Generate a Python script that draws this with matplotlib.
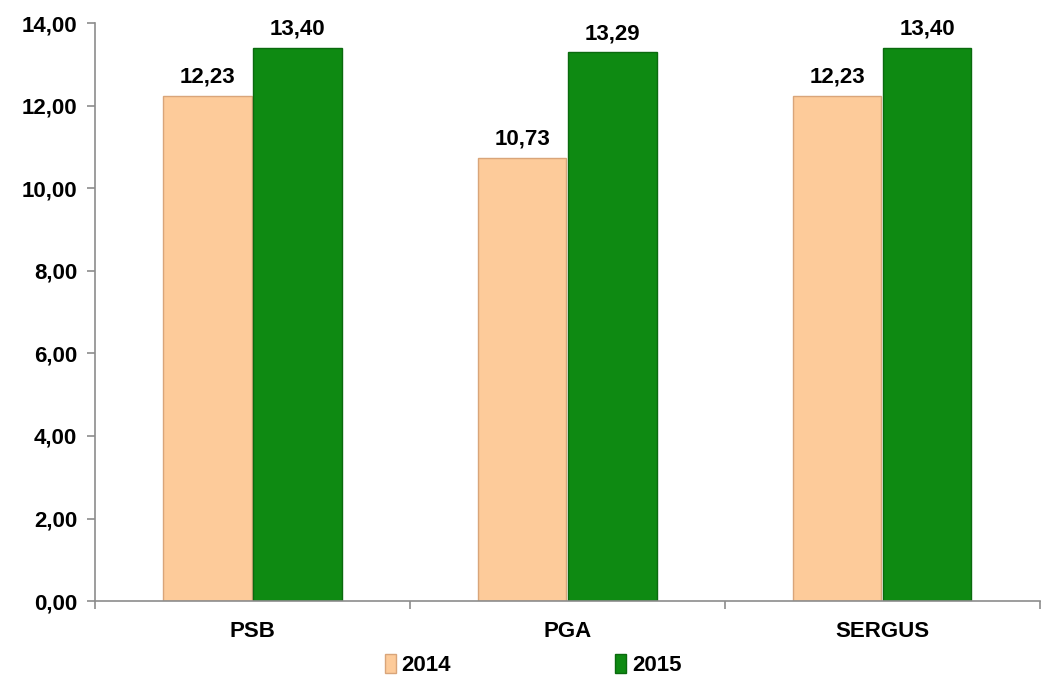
import numpy as np
import matplotlib.pyplot as plt
from matplotlib.ticker import FuncFormatter

categories = ["PSB", "PGA", "SERGUS"]
values_2014 = [12.23, 10.73, 12.23]
values_2015 = [13.40, 13.29, 13.40]
series_names = ["2014", "2015"]


def br(v):
    return f"{v:.2f}".replace(".", ",")


def main():
    plt.rcParams["font.family"] = ["Liberation Sans", "DejaVu Sans"]
    plt.rcParams["font.weight"] = "bold"
    fs = 16

    fig = plt.figure(figsize=(10.45, 6.77), dpi=100)
    ax = fig.add_axes([0.091, 0.112, 0.904, 0.854])

    x = np.arange(len(categories))
    w = 0.28
    b1 = ax.bar(x - w / 2 - 0.003, values_2014, w, color="#FDCB9A", edgecolor="#D9A57A",
                linewidth=1, label=series_names[0], zorder=2)
    b2 = ax.bar(x + w / 2 + 0.003, values_2015, w, color="#0E8A12", edgecolor="#0A6A0E",
                linewidth=1, label=series_names[1], zorder=2)

    for bars, vals in ((b1, values_2014), (b2, values_2015)):
        for bar, v in zip(bars, vals):
            ax.annotate(br(v), (bar.get_x() + bar.get_width() / 2, v),
                        xytext=(0, 6), textcoords="offset points",
                        ha="center", va="bottom", fontsize=fs, fontweight="bold")

    ax.set_ylim(0, 14)
    ax.set_xlim(-0.5, 2.5)
    ax.set_yticks(np.arange(0, 15, 2))
    ax.yaxis.set_major_formatter(FuncFormatter(lambda v, p: br(v)))
    ax.set_xticks(x)
    ax.set_xticklabels(categories)
    ax.set_xticks([-0.5, 0.5, 1.5, 2.5], minor=True)

    for s in ("top", "right"):
        ax.spines[s].set_visible(False)
    for s in ("left", "bottom"):
        ax.spines[s].set_color("#8C8C8C")
        ax.spines[s].set_linewidth(1.2)

    ax.tick_params(axis="y", length=6, color="#8C8C8C", width=1.2,
                   labelsize=fs, pad=7)
    ax.tick_params(axis="x", which="major", length=0, labelsize=fs, pad=14)
    ax.tick_params(axis="x", which="minor", length=6, color="#8C8C8C", width=1.2)

    fig.legend(handles=[b1, b2], loc="center", bbox_to_anchor=(533 / 1045, 1 - 665 / 677),
               ncol=2, frameon=False, fontsize=fs, handlelength=0.5, handleheight=0.9,
               handletextpad=0.25, columnspacing=7.4)

    plt.savefig("out.png", dpi=100)
    plt.close()


if __name__ == "__main__":
    main()
